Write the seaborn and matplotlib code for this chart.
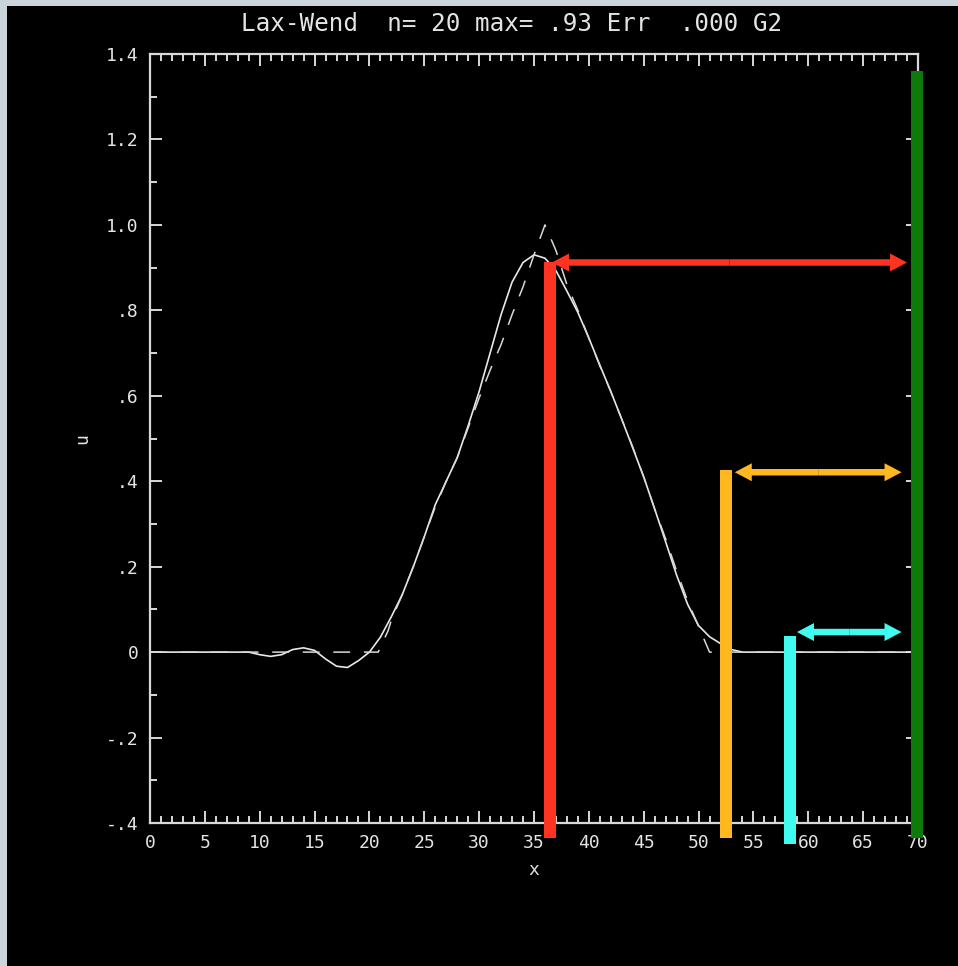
import matplotlib
matplotlib.use("Agg")
import matplotlib.pyplot as plt
import seaborn as sns
import pandas as pd
from matplotlib.ticker import FixedLocator, FixedFormatter, MultipleLocator
from matplotlib.patches import Rectangle, FancyArrow

# ---------------- data ----------------
x_num = [0, 8, 9, 10, 11, 12, 13, 14, 15, 16, 17, 18, 19, 20, 21, 22, 23, 24, 25,
         26, 27, 28, 29, 30, 31, 32, 33, 34, 35, 36, 37, 38, 39, 40, 41, 42, 43,
         44, 45, 46, 47, 48, 49, 50, 51, 52, 53, 54, 70]
u_num = [0, 0, 0, -0.006, -0.010, -0.006, 0.006, 0.010, 0.004, -0.016, -0.033,
         -0.036, -0.020, 0.0, 0.035, 0.083, 0.135, 0.200, 0.270, 0.345, 0.400,
         0.455, 0.530, 0.610, 0.700, 0.790, 0.866, 0.912, 0.930, 0.922, 0.893,
         0.845, 0.795, 0.735, 0.672, 0.610, 0.545, 0.478, 0.410, 0.335, 0.258,
         0.180, 0.112, 0.062, 0.036, 0.020, 0.006, 0, 0]

x_exact = [0, 20, 20.8, 21.7, 22, 23, 24, 25, 26, 27, 28, 29, 30, 31, 32, 33, 34,
           35, 36, 37, 38, 39, 40, 41, 42, 43, 44, 45, 46, 47, 48, 49, 50, 51, 70]
u_exact = [0, 0, 0, 0.05, 0.075, 0.135, 0.200, 0.270, 0.340, 0.400, 0.455, 0.525,
           0.595, 0.660, 0.720, 0.790, 0.855, 0.930, 1.000, 0.940, 0.860, 0.800,
           0.735, 0.670, 0.610, 0.545, 0.480, 0.410, 0.335, 0.265, 0.190, 0.120,
           0.060, 0.0, 0]

x_ticks = list(range(0, 71, 5))
x_tick_labels = [str(v) for v in x_ticks]
y_ticks = [-0.4, -0.2, 0.0, 0.2, 0.4, 0.6, 0.8, 1.0, 1.2, 1.4]
y_tick_labels = ["-.4", "-.2", "0", ".2", ".4", ".6", ".8", "1.0", "1.2", "1.4"]

title_text = "Lax-Wend  n= 20 max= .93 Err  .000 G2"
x_label = "x"
y_label = "u"

# highlight bars (x position, top, bottom) and double arrows
bar_x = [36.46, 52.5, 58.33, 69.9]
bar_top = [0.912, 0.426, 0.037, 1.361]
bar_bottom = [-0.435, -0.435, -0.449, -0.435]
bar_colors = ["#ff3322", "#ffb820", "#40fcf0", "#0f7a0c"]

arrow_y = [0.912, 0.421, 0.047]
arrow_x0 = [36.64, 53.3, 58.97]
arrow_x1 = [69.0, 68.5, 68.5]
arrow_colors = ["#ff3322", "#ffb820", "#40fcf0"]

# ---------------- style ----------------
sns.set_style("dark")
plt.rcParams["font.family"] = ["DejaVu Sans Mono", "DejaVu Sans"]

W, H = 958, 966
fg = "#e4e4e4"
fig = plt.figure(figsize=(W / 100, H / 100), dpi=100)
fig.patch.set_facecolor("#c9d4db")
fig.add_artist(Rectangle((7 / W, 0), 1, (H - 6) / H, transform=fig.transFigure,
                         facecolor="black", edgecolor="none", zorder=-10))

ax = fig.add_axes([150 / W, (H - 823) / H, 768 / W, (823 - 54) / H])
ax.set_facecolor("black")
ax.grid(False)

df_num = pd.DataFrame({"x": x_num, "u": u_num})
df_ex = pd.DataFrame({"x": x_exact, "u": u_exact})
sns.lineplot(data=df_num, x="x", y="u", ax=ax, color="#e8e8e8", lw=1.2,
             estimator=None, sort=False)
sns.lineplot(data=df_ex, x="x", y="u", ax=ax, color="#d8d8d8", lw=1.1,
             estimator=None, sort=False)
ax.lines[-1].set_dashes((11, 9))

ax.set_xlim(0, 70)
ax.set_ylim(-0.4, 1.4)

ax.xaxis.set_major_locator(FixedLocator(x_ticks))
ax.xaxis.set_major_formatter(FixedFormatter(x_tick_labels))
ax.xaxis.set_minor_locator(MultipleLocator(1))
ax.yaxis.set_major_locator(FixedLocator(y_ticks))
ax.yaxis.set_major_formatter(FixedFormatter(y_tick_labels))
ax.yaxis.set_minor_locator(MultipleLocator(0.1))

ax.tick_params(which="both", direction="in", top=True, right=True, bottom=True,
               left=True, color="#d8d8d8", width=1.4)
ax.tick_params(which="major", length=8.5, labelsize=13, labelcolor=fg, pad=8)
ax.tick_params(which="minor", length=5)
for s in ax.spines.values():
    s.set_color("#d8d8d8")
    s.set_linewidth(1.6)
    s.set_visible(True)

ax.set_xlabel(x_label, fontsize=13, color=fg)
ax.xaxis.set_label_coords(0.5, -(870 - 823) / 769)
ax.xaxis.label.set_va("center")
ax.set_ylabel(y_label, fontsize=13, color=fg, rotation=90)
ax.yaxis.set_label_coords(-(150 - 82) / 768, 0.5)
ax.yaxis.label.set_va("center")

fig.text(512 / W, 1 - 24 / H, title_text, ha="center", va="center",
         fontsize=17.5, color=fg)

# ---------------- highlight bars & arrows ----------------
bar_lw = 12 * 0.72
for bx, bt, bb, c in zip(bar_x, bar_top, bar_bottom, bar_colors):
    ax.plot([bx, bx], [bb, bt], color=c, lw=bar_lw, solid_capstyle="butt",
            clip_on=False, zorder=6)

px_x = 768 / 70.0      # pixels per x unit
px_u = 769 / 1.8       # pixels per u unit
shaft_w = 6.5 / px_u
head_w = 18 / px_u
head_l = 17 / px_x
for ay, a0, a1, c in zip(arrow_y, arrow_x0, arrow_x1, arrow_colors):
    mid = 0.5 * (a0 + a1)
    for end in (a0, a1):
        ax.add_patch(FancyArrow(mid, ay, end - mid, 0, width=shaft_w,
                                head_width=head_w, head_length=head_l,
                                length_includes_head=True, color=c, lw=0,
                                clip_on=False, zorder=6))

fig.savefig("out.png", dpi=100, facecolor=fig.get_facecolor())
